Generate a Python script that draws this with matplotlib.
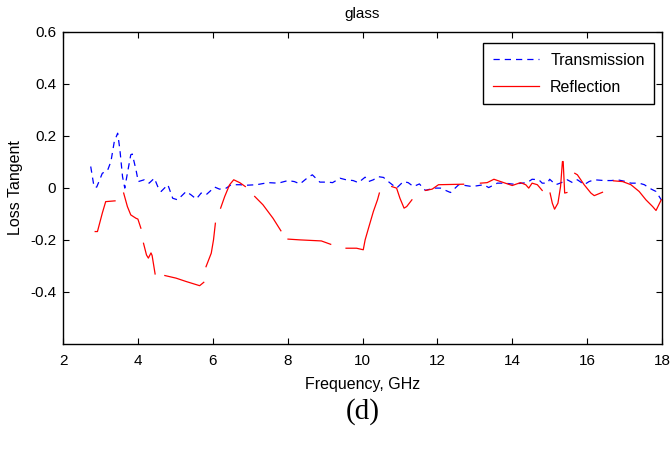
import numpy as np
import matplotlib
matplotlib.use("Agg")
import matplotlib.pyplot as plt

nan = np.nan

trans_freq = [2.74, 2.83, 2.90, 2.96, 3.05, 3.19, 3.28, 3.37, 3.46, 3.52, 3.59, 3.65,
              3.72, 3.81, 3.85, 3.95, 4.01, 4.17, 4.30, 4.44, 4.53, 4.62, 4.80, 4.93,
              5.06, 5.29, 5.42, 5.56, 5.69, 5.82, 6.05, 6.18, 6.36, 6.49, 6.72, 6.90,
              7.17, 7.48, 7.75, 8.01, 8.18, 8.33, 8.55, 8.66, 8.86, 9.08, 9.20, 9.40,
              9.56, 9.75, 9.89, 10.07, 10.16, 10.29, 10.42, 10.56, 10.69, 10.91, 11.09,
              11.22, 11.36, 11.52, 11.68, 11.90, 12.08, 12.35, 12.57, 12.70, 12.93,
              13.24, 13.37, 13.60, 13.80, 14.04, 14.25, 14.40, 14.53, 14.71, 14.80,
              14.94, 15.00, 15.16, 15.28, 15.47, 15.61, 15.74, 15.85, 15.92, 16.05,
              16.19, 16.46, 16.65, 16.81, 17.04, 17.17, 17.39, 17.53, 17.66, 17.84, 17.98]
trans_loss = [0.082, 0.003, 0.003, 0.024, 0.056, 0.067, 0.101, 0.178, 0.210, 0.146, 0.043, -0.001,
              0.056, 0.127, 0.130, 0.069, 0.024, 0.031, 0.018, 0.037, 0.005, -0.014, 0.012, -0.040,
              -0.046, -0.014, -0.027, -0.043, -0.020, -0.027, 0.003, -0.005, -0.001, 0.012, 0.012, 0.010,
              0.012, 0.020, 0.018, 0.028, 0.024, 0.015, 0.041, 0.050, 0.022, 0.022, 0.020, 0.037,
              0.031, 0.028, 0.020, 0.041, 0.024, 0.031, 0.043, 0.040, 0.024, -0.001, 0.024,
              0.020, 0.005, 0.015, -0.010, -0.001, -0.001, -0.018, 0.012, 0.010, 0.005,
              0.012, 0.001, 0.018, 0.018, 0.014, 0.018, 0.020, 0.033, 0.031, 0.018,
              0.018, 0.033, 0.012, 0.018, 0.031, 0.020, 0.031, 0.020, 0.012, 0.024,
              0.031, 0.028, 0.028, 0.031, 0.024, 0.018, 0.018, 0.012, -0.001, -0.014, -0.046]

# gaps in the reflection trace are kept as NaN
refl_freq = [2.86, 2.92, 3.05, 3.14, 3.39, nan,
             3.62, 3.72, 3.81, 3.95, 4.00, 4.08, nan,
             4.15, 4.23, 4.28, 4.35, 4.38, 4.46, nan,
             4.72, 5.02, 5.29, 5.65, 5.76, nan,
             5.82, 5.96, 6.02, 6.07, nan,
             6.21, 6.32, 6.45, 6.56, 6.72, 6.87, nan,
             7.12, 7.34, 7.61, 7.82, nan,
             8.01, 8.33, 8.90, 9.15, nan,
             9.56, 9.84, 10.02, 10.07, 10.16, 10.29, 10.40, 10.45, nan,
             10.78, 10.91, 11.00, 11.11, 11.18, 11.32, nan,
             11.68, 11.86, 12.03, 12.70, nan,
             13.15, 13.33, 13.51, 13.69, 14.00, 14.22, 14.36, 14.44, 14.53, 14.67, 14.80, nan,
             15.01, 15.07, 15.13, 15.22, 15.29, 15.34, 15.36, 15.40, 15.46, nan,
             15.67, 15.74, 15.92, 16.10, 16.19, 16.41, nan,
             16.70, 16.95, 17.17, 17.39, 17.57, 17.75, 17.84, 17.98]
refl_loss = [-0.168, -0.168, -0.097, -0.053, -0.050, nan,
             -0.020, -0.072, -0.104, -0.117, -0.120, -0.155, nan,
             -0.213, -0.258, -0.270, -0.250, -0.260, -0.331, nan,
             -0.337, -0.347, -0.360, -0.376, -0.363, nan,
             -0.303, -0.251, -0.200, -0.136, nan,
             -0.078, -0.033, 0.012, 0.031, 0.020, 0.005, nan,
             -0.033, -0.065, -0.117, -0.165, nan,
             -0.197, -0.200, -0.204, -0.217, nan,
             -0.232, -0.232, -0.238, -0.200, -0.155, -0.091, -0.046, -0.020, nan,
             0.005, -0.001, -0.040, -0.078, -0.072, -0.046, nan,
             -0.010, -0.005, 0.012, 0.014, nan,
             0.018, 0.020, 0.033, 0.024, 0.009, 0.020, 0.012, -0.001, 0.018, 0.012, -0.010, nan,
             -0.020, -0.059, -0.082, -0.059, 0.005, 0.101, 0.101, -0.020, -0.018, nan,
             0.056, 0.050, 0.012, -0.020, -0.030, -0.017, nan,
             0.027, 0.024, 0.012, -0.014, -0.046, -0.072, -0.087, -0.046]

x_ticks = [2, 4, 6, 8, 10, 12, 14, 16, 18]
y_ticks = [-0.4, -0.2, 0, 0.2, 0.4, 0.6]
y_tick_labels = ["-0.4", "-0.2", "0", "0.2", "0.4", "0.6"]

plt.rcParams["font.family"] = ["Liberation Sans", "DejaVu Sans"]

fig = plt.figure(figsize=(6.71, 4.51), dpi=100)
ax = fig.add_axes([0.0939, 0.2373, 0.8927, 0.6924])

ax.plot(trans_freq, trans_loss, color="#0000ff", lw=0.9, ls=(0, (5, 4)), label="Transmission")
ax.plot(refl_freq, refl_loss, color="#ff0000", lw=0.9, label="Reflection")

ax.set_xlim(2, 18)
ax.set_ylim(-0.6, 0.6)
ax.set_xticks(x_ticks)
ax.set_yticks(y_ticks)
ax.set_yticklabels(y_tick_labels)
ax.tick_params(direction="in", top=True, right=True, length=4, width=0.8,
               labelsize=11)
ax.tick_params(axis="x", pad=7)
ax.tick_params(axis="y", pad=5)
for s in ax.spines.values():
    s.set_linewidth(1.0)

ax.set_title("glass", fontsize=11, pad=10)
ax.set_xlabel("Frequency, GHz", fontsize=11.5, labelpad=7)
ax.set_ylabel("Loss Tangent", fontsize=11.5, labelpad=5)

leg = ax.legend(loc="upper right", bbox_to_anchor=(0.987, 0.964), borderaxespad=0,
                fontsize=11.5, handlelength=2.9, handletextpad=0.7, fancybox=False,
                framealpha=1, edgecolor="black", borderpad=0.6, labelspacing=0.75)
leg.get_frame().set_linewidth(1.0)

fig.text(0.54, 0.088, "(d)", ha="center", va="center", fontsize=21,
         family=["Liberation Serif", "DejaVu Serif"])

fig.savefig("out.png", dpi=100)
